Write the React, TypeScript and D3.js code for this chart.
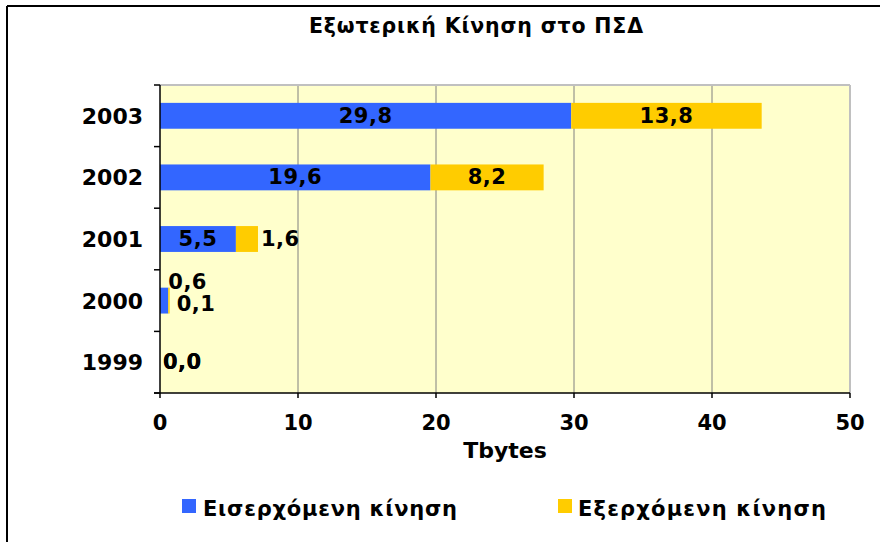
import React from "react";
import * as d3 from "d3";

const years = ["1999", "2000", "2001", "2002", "2003"];
const incoming = [0.0, 0.6, 5.5, 19.6, 29.8];
const outgoing = [0.0, 0.1, 1.6, 8.2, 13.8];
const xTicks = [0, 10, 20, 30, 40, 50];
const seriesNames = ["Εισερχόμενη κίνηση", "Εξερχόμενη κίνηση"];
const title = "Εξωτερική Κίνηση στο ΠΣΔ";
const xTitle = "Tbytes";

const W = 880, H = 542;
const M = { left: 160, right: 850, top: 85, bottom: 393 };
const BLUE = "#3366FF", YELLOW = "#FFCC00", BG = "#FFFFCC";
const FONT = "'DejaVu Sans', Verdana, sans-serif";

const fmt = (v: number) => v.toFixed(1).replace(".", ",");

export default function App() {
  const x = d3.scaleLinear().domain([0, 50]).range([M.left, M.right]);
  const y = d3
    .scaleBand<string>()
    .domain([...years].reverse())
    .range([M.top, M.bottom])
    .paddingInner(0.58)
    .paddingOuter(0.29);
  const step = y.step();
  const bw = y.bandwidth();
  const labelFont = 21;
  const charW = (s: string) => s.length * labelFont * 0.66;

  return (
    <svg width={W} height={H} style={{ position: "absolute", left: 0, top: 0, background: "#fff" }} fontFamily={FONT}>
      {/* outer frame (left and top) */}
      <line x1={7} y1={6} x2={W} y2={6} stroke="#000" strokeWidth={2} />
      <line x1={7} y1={6} x2={7} y2={H} stroke="#000" strokeWidth={2} />

      <text x={476} y={33} fontSize={20.5} fontWeight="bold" textAnchor="middle" textLength={334} lengthAdjust="spacing">
        {title}
      </text>

      {/* plot area */}
      <rect x={M.left} y={M.top} width={M.right - M.left} height={M.bottom - M.top} fill={BG} />
      {xTicks.slice(1, -1).map((t) => (
        <line key={t} x1={x(t)} x2={x(t)} y1={M.top} y2={M.bottom} stroke="#808080" strokeWidth={1} />
      ))}
      <line x1={M.left} x2={M.right} y1={M.top} y2={M.top} stroke="#c0c0c0" strokeWidth={2} />
      <line x1={M.right} x2={M.right} y1={M.top} y2={M.bottom} stroke="#c0c0c0" strokeWidth={2} />

      {/* bars */}
      {years.map((yr, i) => {
        const y0 = y(yr)!;
        return (
          <g key={yr}>
            <rect x={x(0)} y={y0} width={x(incoming[i]) - x(0)} height={bw} fill={BLUE} />
            <rect x={x(incoming[i])} y={y0} width={x(incoming[i] + outgoing[i]) - x(incoming[i])} height={bw} fill={YELLOW} />
          </g>
        );
      })}

      {/* axes */}
      <line x1={M.left} x2={M.left} y1={M.top} y2={M.bottom} stroke="#000" strokeWidth={1.5} />
      <line x1={M.left - 6} x2={M.right} y1={M.bottom} y2={M.bottom} stroke="#000" strokeWidth={1.5} />
      {d3.range(years.length + 1).map((k) => (
        <line key={k} x1={M.left - 6} x2={M.left} y1={M.top + k * step} y2={M.top + k * step} stroke="#000" strokeWidth={1.5} />
      ))}
      {xTicks.map((t) => (
        <g key={t}>
          <line x1={x(t)} x2={x(t)} y1={M.bottom} y2={M.bottom + 5} stroke="#000" strokeWidth={1.5} />
          <text x={x(t)} y={430} fontSize={21} fontWeight="bold" textAnchor="middle">
            {t}
          </text>
        </g>
      ))}
      {years.map((yr) => (
        <text key={yr} x={143} y={y(yr)! + bw / 2 + 8} fontSize={22} fontWeight="bold" textAnchor="end">
          {yr}
        </text>
      ))}
      <text x={(M.left + M.right) / 2} y={458} fontSize={22} fontWeight="bold" textAnchor="middle">
        {xTitle}
      </text>

      {/* data labels */}
      {years.map((yr, i) => {
        const cy = y(yr)! + bw / 2;
        const a = incoming[i], b = outgoing[i];
        const inW = x(a) - x(0), outW = x(a + b) - x(a);
        const la = fmt(a), lb = fmt(b);
        const aFits = inW > charW(la) + 6;
        const bFits = outW > charW(lb) + 6;
        let ax: number, ay: number, aAnchor: "middle" | "start";
        if (aFits) {
          ax = (x(0) + x(a)) / 2; ay = cy; aAnchor = "middle";
        } else if (a > 0 && !bFits) {
          ax = x(a); ay = cy - 19; aAnchor = "start";
        } else {
          ax = x(a) + 3; ay = cy; aAnchor = "start";
        }
        let bx: number, bAnchor: "middle" | "start";
        if (bFits) { bx = (x(a) + x(a + b)) / 2; bAnchor = "middle"; }
        else { bx = x(a + b) + (b > 0 && b < 1 ? 7 : 3); bAnchor = "start"; }
        const by = cy + (a > 0 && !aFits && !bFits ? 3 : 0);
        return (
          <g key={yr} fontSize={labelFont} fontWeight="bold">
            <text x={ax} y={ay + 7} textAnchor={aAnchor} letterSpacing={0.5}>{la}</text>
            <text x={bx} y={by + 7} textAnchor={bAnchor} letterSpacing={0.5}>{lb}</text>
          </g>
        );
      })}

      {/* legend */}
      <rect x={182} y={499} width={14} height={14} fill={BLUE} />
      <text x={203} y={516} fontSize={21} fontWeight="bold" textLength={254} lengthAdjust="spacing">
        {seriesNames[0]}
      </text>
      <rect x={558} y={499} width={14} height={14} fill={YELLOW} />
      <text x={578} y={516} fontSize={21} fontWeight="bold" textLength={248} lengthAdjust="spacing">
        {seriesNames[1]}
      </text>
    </svg>
  );
}
